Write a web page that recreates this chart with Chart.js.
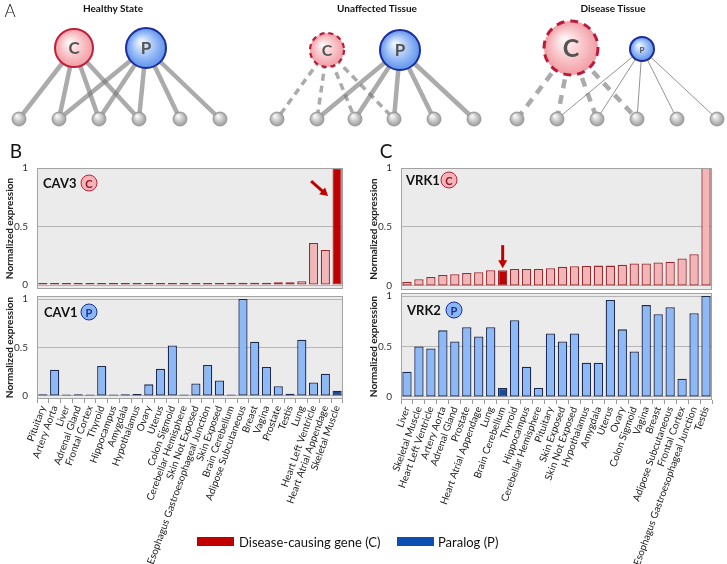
<!DOCTYPE html>
<html>
<head>
<meta charset="utf-8">
<script src="https://cdn.jsdelivr.net/npm/chart.js@4.4.1/dist/chart.umd.min.js"></script>
<style>
    body { margin: 0; background: #fff; font-family: Lato, sans-serif; }
    #quadro { position: relative; width: 727px; height: 564px; overflow: hidden; }
    canvas { position: absolute; }
    .txt { position: absolute; white-space: nowrap; color: #111; }
    .centro { transform: translate(-50%, -50%); }
    .meio { transform: translateY(-50%); }
    .titulo { font-weight: bold; font-size: 10px; }
    .letra { font-size: 19px; }
    .gene { font-weight: bold; font-size: 13px; }
    .selo { position: absolute; width: 15px; height: 15px; border-radius: 50%; transform: translate(-50%, -50%);
            font: bold 11px Lato, sans-serif; text-align: center; line-height: 15px; }
    .seloC { background: #f6b3b8; border: 1.5px solid #c0203c; color: #8b1a2a; }
    .seloP { background: #8ab8f5; border: 1.5px solid #1c2d9a; color: #1c2d9a; }
    .caixa { position: absolute; width: 37px; height: 9px; }
</style>
</head>
<body>
<div id="quadro">
    <canvas id="graficoRede" width="727" height="140" style="left:0;top:0"></canvas>
    <canvas id="graficoCav3" width="355" height="142" style="left:0;top:156px"></canvas>
    <canvas id="graficoCav1" width="355" height="280" style="left:0;top:284px"></canvas>
    <canvas id="graficoVrk1" width="363" height="143" style="left:364px;top:156px"></canvas>
    <canvas id="graficoVrk2" width="363" height="280" style="left:364px;top:284px"></canvas>

    <div class="txt centro" style="left:10px;top:10px;font-size:17px;font-weight:300">A</div>
    <div class="txt centro titulo" style="left:113px;top:8px">Healthy State</div>
    <div class="txt centro titulo" style="left:377px;top:8px">Unaffected Tissue</div>
    <div class="txt centro titulo" style="left:613px;top:8px">Disease Tissue</div>

    <div class="txt centro letra" style="left:16px;top:150px">B</div>
    <div class="txt centro letra" style="left:386px;top:150px">C</div>

    <div class="txt meio gene" style="left:43px;top:183px">CAV3</div>
    <div class="selo seloC" style="left:89px;top:183px">C</div>
    <div class="txt meio gene" style="left:44px;top:312px">CAV1</div>
    <div class="selo seloP" style="left:89px;top:312px">P</div>
    <div class="txt meio gene" style="left:406px;top:180px">VRK1</div>
    <div class="selo seloC" style="left:449px;top:180px">C</div>
    <div class="txt meio gene" style="left:407px;top:310px">VRK2</div>
    <div class="selo seloP" style="left:454px;top:310px">P</div>

    <div class="caixa" style="left:197px;top:537px;background:#c00000"></div>
    <div class="txt meio" style="left:239px;top:542px;font-size:13px">Disease-causing gene (C)</div>
    <div class="caixa" style="left:397px;top:537px;background:#0b4fb0"></div>
    <div class="txt meio" style="left:438px;top:542px;font-size:13px">Paralog (P)</div>
</div>

<script>
// ---- dados painel A (rede) ----
const hubX = [74, 146, 327, 400, 571, 642];
const hubY = [48, 48, 50, 50, 48, 49];
const hubRaio = [19, 20, 17, 20, 27, 12];
const hubTipo = ['C', 'P', 'C', 'P', 'C', 'P'];
const hubTracejado = [false, false, true, false, true, false];

const noX = [19, 59, 99, 139, 180, 220, 277, 317, 355, 394, 434, 474, 517, 557, 597, 637, 677, 717];
const noY = [119, 119, 119, 119, 119, 119, 119, 119, 119, 119, 119, 119, 119, 119, 119, 119, 119, 119];

// [hub, no]
const arestas = [
    [0, 0], [0, 1], [0, 2], [0, 3], [1, 1], [1, 2], [1, 3], [1, 4], [1, 5],
    [2, 6], [2, 7], [2, 8], [2, 9], [3, 7], [3, 8], [3, 9], [3, 10], [3, 11],
    [4, 12], [4, 13], [4, 14], [4, 15], [5, 13], [5, 14], [5, 15], [5, 16], [5, 17]
];

// ---- dados paineis B e C ----
const tecidosCav = [
    "Pituitary", "Artery Aorta", "Liver", "Adrenal Gland", "Frontal Cortex", "Thyroid",
    "Hippocampus", "Amygdala", "Hypothalamus", "Ovary", "Uterus", "Colon Sigmoid",
    "Cerebellar Hemisphere", "Skin Not Exposed", "Esophagus Gastroesophageal Junction",
    "Skin Exposed", "Brain Cerebellum", "Adipose Subcutaneous", "Breast", "Vagina",
    "Prostate", "Testis", "Lung", "Heart Left Ventricle", "Heart Atrial Appendage", "Skeletal Muscle"
];
const cav3 = [0.018, 0.018, 0.018, 0.018, 0.018, 0.018, 0.018, 0.018, 0.018, 0.018, 0.018, 0.018, 0.018,
    0.018, 0.018, 0.018, 0.019, 0.019, 0.019, 0.019, 0.024, 0.024, 0.032, 0.36, 0.30, 1.0];
const cav1 = [0.017, 0.27, 0.016, 0.017, 0.016, 0.31, 0.016, 0.017, 0.02, 0.12, 0.28, 0.52, 0.016,
    0.13, 0.32, 0.16, 0.016, 1.0, 0.56, 0.30, 0.10, 0.024, 0.58, 0.14, 0.23, 0.055];

const tecidosVrk = [
    "Liver", "Skeletal Muscle", "Heart Left Ventricle", "Artery Aorta", "Adrenal Gland", "Prostate",
    "Heart Atrial Appendage", "Lung", "Brain Cerebellum", "Thyroid", "Hippocampus",
    "Cerebellar Hemisphere", "Pituitary", "Skin Exposed", "Skin Not Exposed", "Hypothalamus",
    "Amygdala", "Uterus", "Ovary", "Colon Sigmoid", "Vagina", "Breast", "Adipose Subcutaneous",
    "Frontal Cortex", "Esophagus Gastroesophageal Junction", "Testis"
];
const vrk1 = [0.035, 0.057, 0.077, 0.094, 0.10, 0.11, 0.117, 0.134, 0.134, 0.145, 0.145, 0.145, 0.15,
    0.162, 0.168, 0.17, 0.173, 0.173, 0.18, 0.19, 0.19, 0.20, 0.205, 0.233, 0.27, 1.0];
const vrk2 = [0.25, 0.50, 0.48, 0.66, 0.55, 0.69, 0.60, 0.69, 0.09, 0.76, 0.30, 0.09, 0.63, 0.55,
    0.63, 0.34, 0.34, 0.96, 0.67, 0.45, 0.91, 0.82, 0.89, 0.18, 0.83, 1.0];

const ticksY = [0, 0.5, 1];

// estilo das arestas por hub
const estiloArestas = [
    { largura: 4.5, traco: [] }, { largura: 4.5, traco: [] },
    { largura: 3.5, traco: [7, 5] }, { largura: 4.5, traco: [] },
    { largura: 4.5, traco: [9, 7] }, { largura: 1, traco: [] }
];
const tamanhoLetra = [17, 17, 16, 17, 25, 8];

function gradienteHub(context) {
    const i = context.dataIndex;
    const base = hubTipo[i] === 'C' ? '#f6b3b8' : '#8ab8f5';
    const chart = context.chart;
    if (context.type !== 'data' || !chart.chartArea || !chart.scales.x) return base;
    const x = chart.scales.x.getPixelForValue(hubX[i]);
    const y = chart.scales.y.getPixelForValue(hubY[i]);
    if (!isFinite(x) || !isFinite(y)) return base;
    const r = hubRaio[i];
    const g = chart.ctx.createRadialGradient(x - r * 0.25, y - r * 0.3, r * 0.1, x, y, r);
    if (hubTipo[i] === 'C') {
        g.addColorStop(0, '#fff2f3');
        g.addColorStop(1, '#f29ca4');
    } else {
        g.addColorStop(0, '#e8f2ff');
        g.addColorStop(1, '#5d92ee');
    }
    return g;
}

function gradienteNo(context) {
    const chart = context.chart;
    if (context.type !== 'data' || !chart.chartArea || !chart.scales.x) return '#bbb';
    const i = context.dataIndex;
    const x = chart.scales.x.getPixelForValue(noX[i]);
    const y = chart.scales.y.getPixelForValue(noY[i]);
    if (!isFinite(x) || !isFinite(y)) return '#bbb';
    const g = chart.ctx.createRadialGradient(x - 2, y - 3, 1, x, y, 7);
    g.addColorStop(0, '#f4f4f4');
    g.addColorStop(1, '#9c9c9c');
    return g;
}

const pluginHubs = {
    id: 'hubs',
    afterDatasetsDraw(chart) {
        const ctx = chart.ctx;
        const meta = chart.getDatasetMeta(0);
        ctx.save();
        for (let i = 0; i < hubX.length; i++) {
            const p = meta.data[i];
            if (hubTracejado[i]) {
                ctx.beginPath();
                ctx.setLineDash(hubRaio[i] > 20 ? [8, 6] : [5, 4]);
                ctx.lineWidth = hubRaio[i] > 20 ? 3 : 2.2;
                ctx.strokeStyle = '#b81c3a';
                ctx.arc(p.x, p.y, hubRaio[i], 0, Math.PI * 2);
                ctx.stroke();
            }
            ctx.setLineDash([]);
            ctx.fillStyle = '#555';
            ctx.font = `bold ${tamanhoLetra[i]}px Lato, sans-serif`;
            ctx.textAlign = 'center';
            ctx.textBaseline = 'middle';
            ctx.fillText(hubTipo[i], p.x, p.y + 1);
        }
        ctx.restore();
    }
};

function plotarRede() {
    const datasets = [{
        data: hubX.map((x, i) => ({ x: x, y: hubY[i] })),
        pointRadius: hubRaio,
        pointBackgroundColor: gradienteHub,
        pointBorderColor: hubTipo.map(t => t === 'C' ? '#c0203c' : '#1c2d9a'),
        pointBorderWidth: hubTracejado.map(t => t ? 0 : 2),
        clip: false
    }, {
        data: noX.map((x, i) => ({ x: x, y: noY[i] })),
        pointRadius: 7,
        pointBackgroundColor: gradienteNo,
        pointBorderColor: '#8e8e8e',
        pointBorderWidth: 0.8,
        clip: false
    }];

    for (let i = 0; i < arestas.length; i++) {
        const h = arestas[i][0];
        const n = arestas[i][1];
        const estilo = estiloArestas[h];
        datasets.push({
            data: [{ x: hubX[h], y: hubY[h] }, { x: noX[n], y: noY[n] }],
            showLine: true,
            pointRadius: 0,
            borderColor: estilo.largura > 2 ? 'rgba(120,120,120,0.62)' : 'rgba(120,120,120,0.8)',
            borderWidth: estilo.largura,
            borderDash: estilo.traco,
            clip: false
        });
    }

    new Chart(document.getElementById('graficoRede'), {
        type: 'scatter',
        data: { datasets: datasets },
        options: {
            responsive: false,
            animation: false,
            layout: { padding: 0, autoPadding: false },
            plugins: { legend: { display: false }, tooltip: { enabled: false } },
            scales: {
                x: { type: 'linear', min: 0, max: 727, display: false },
                y: { type: 'linear', min: 0, max: 140, reverse: true, display: false }
            }
        },
        plugins: [pluginHubs]
    });
}

const fundoPlot = {
    id: 'fundoPlot',
    beforeDraw(chart) {
        const a = chart.chartArea;
        chart.ctx.save();
        chart.ctx.fillStyle = '#ebebeb';
        chart.ctx.fillRect(a.left, a.top, a.right - a.left, a.bottom - a.top);
        chart.ctx.restore();
    },
    afterDraw(chart) {
        const a = chart.chartArea;
        chart.ctx.save();
        chart.ctx.strokeStyle = '#a3a3a3';
        chart.ctx.lineWidth = 1;
        chart.ctx.strokeRect(Math.round(a.left) + 0.5, Math.round(a.top) + 0.5,
            Math.round(a.right - a.left) - 1, Math.round(a.bottom - a.top) - 1);
        chart.ctx.restore();
    }
};

const setaPlugin = {
    id: 'seta',
    afterDatasetsDraw(chart, args, opcoes) {
        const barra = chart.getDatasetMeta(0).data[opcoes.indice];
        if (!barra) return;
        const escalaY = chart.scales.y;
        let ponta, cauda;
        if (opcoes.tipo === 'diagonal') {
            ponta = { x: barra.x - 9, y: escalaY.getPixelForValue(0.76) };
            cauda = { x: ponta.x - 17, y: ponta.y - 15 };
        } else {
            ponta = { x: barra.x, y: barra.y - 2 };
            cauda = { x: barra.x, y: barra.y - 25 };
        }
        const ang = Math.atan2(ponta.y - cauda.y, ponta.x - cauda.x);
        const ctx = chart.ctx;
        ctx.save();
        ctx.strokeStyle = '#c00000';
        ctx.fillStyle = '#c00000';
        ctx.lineWidth = 3;
        ctx.beginPath();
        ctx.moveTo(cauda.x, cauda.y);
        ctx.lineTo(ponta.x - Math.cos(ang) * 6, ponta.y - Math.sin(ang) * 6);
        ctx.stroke();
        ctx.beginPath();
        ctx.moveTo(ponta.x, ponta.y);
        ctx.lineTo(ponta.x - Math.cos(ang) * 8 + Math.sin(ang) * 4.5, ponta.y - Math.sin(ang) * 8 - Math.cos(ang) * 4.5);
        ctx.lineTo(ponta.x - Math.cos(ang) * 8 - Math.sin(ang) * 4.5, ponta.y - Math.sin(ang) * 8 + Math.cos(ang) * 4.5);
        ctx.closePath();
        ctx.fill();
        ctx.restore();
    }
};

function plotarGraficoBarras(idCanvas, tecidos, valores, destaque, opcoes) {
    const indiceDestaque = tecidos.indexOf(destaque);
    const cores = tecidos.map((t, i) => i === indiceDestaque ? opcoes.corDestaque : opcoes.cor);

    let eixoX = { display: false };
    if (opcoes.mostrarRotulos) {
        eixoX = {
            afterFit: function (s) { s.height = opcoes.alturaRotulos; },
            grid: { offset: true, drawOnChartArea: false, drawTicks: true, tickLength: 4, color: '#9a9a9a' },
            border: { display: false },
            ticks: {
                autoSkip: false,
                minRotation: 70,
                maxRotation: 70,
                padding: 1,
                color: '#1a1a1a',
                font: { family: 'Lato', size: 10 }
            }
        };
    }

    new Chart(document.getElementById(idCanvas), {
        type: 'bar',
        data: {
            labels: tecidos,
            datasets: [{
                data: valores,
                backgroundColor: cores,
                borderColor: opcoes.borda,
                borderWidth: 1.3,
                borderSkipped: false,
                barPercentage: 0.78,
                categoryPercentage: 1
            }]
        },
        options: {
            responsive: false,
            animation: false,
            layout: { padding: opcoes.padding },
            plugins: {
                legend: { display: false },
                tooltip: { enabled: false },
                seta: opcoes.seta || false
            },
            scales: {
                x: eixoX,
                y: {
                    min: opcoes.min,
                    max: opcoes.max,
                    afterFit: function (s) { s.width = 37; },
                    afterBuildTicks: function (s) { s.ticks = ticksY.map(v => ({ value: v })); },
                    grid: { color: '#b5b5b5', drawTicks: true, tickLength: 7, tickColor: 'rgba(0,0,0,0)' },
                    border: { display: false },
                    ticks: {
                        padding: 2,
                        color: '#333',
                        font: { family: 'Lato', size: 10 },
                        callback: v => String(v)
                    },
                    title: {
                        display: true,
                        text: 'Normalized expression',
                        color: '#222',
                        font: { family: 'Lato', size: 10, weight: 'bold' },
                        padding: { top: 4, bottom: 0 }
                    }
                }
            }
        },
        plugins: [fundoPlot, setaPlugin]
    });
}

plotarRede();

plotarGraficoBarras('graficoCav3', tecidosCav, cav3, 'Skeletal Muscle', {
    cor: '#f2b6b8', corDestaque: '#c00000', borda: '#9b2a2e',
    min: -0.034, max: 1, padding: { top: 12, right: 12, bottom: 9, left: 0 },
    seta: { tipo: 'diagonal', indice: tecidosCav.indexOf('Skeletal Muscle') }
});
plotarGraficoBarras('graficoCav1', tecidosCav, cav1, 'Skeletal Muscle', {
    cor: '#8dbaf7', corDestaque: '#1a4c9c', borda: '#1d2a4e',
    min: -0.031, max: 1.031, padding: { top: 12, right: 12, bottom: 0, left: 0 },
    mostrarRotulos: true, alturaRotulos: 165
});
plotarGraficoBarras('graficoVrk1', tecidosVrk, vrk1, 'Brain Cerebellum', {
    cor: '#f2b6b8', corDestaque: '#c00000', borda: '#9b2a2e',
    min: -0.034, max: 1, padding: { top: 12, right: 15, bottom: 9, left: 0 },
    seta: { tipo: 'vertical', indice: tecidosVrk.indexOf('Brain Cerebellum') }
});
plotarGraficoBarras('graficoVrk2', tecidosVrk, vrk2, 'Brain Cerebellum', {
    cor: '#8dbaf7', corDestaque: '#1a4c9c', borda: '#1d2a4e',
    min: -0.03, max: 1.03, padding: { top: 9, right: 15, bottom: 0, left: 0 },
    mostrarRotulos: true, alturaRotulos: 164
});
</script>
</body>
</html>
